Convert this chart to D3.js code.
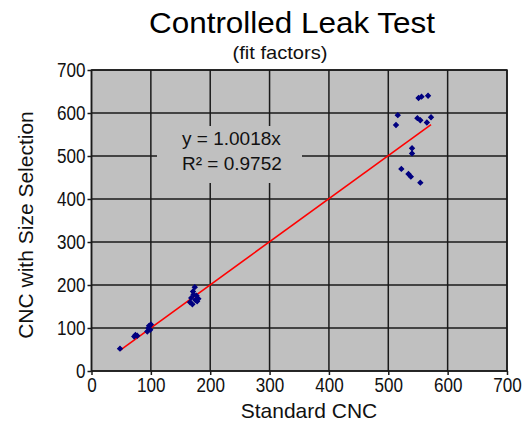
<!DOCTYPE html>
<html>
<head>
<meta charset="utf-8">
<script src="https://cdn.jsdelivr.net/npm/d3@7"></script>
<style>
  html, body { margin: 0; padding: 0; background: #ffffff; }
  svg { display: block; }
</style>
</head>
<body>
<svg id="chart" width="532" height="426"></svg>
<script>
// ---- data ----
const standardCNC = [48, 72, 74, 77, 94, 96, 97, 99, 100,
  166, 168, 170, 171, 172, 174, 175, 177, 178, 180,
  513, 516, 522, 534, 538, 540, 540, 549, 551, 554, 554, 556, 565, 567, 572];
const sizeSelCNC = [52, 80, 84, 82, 92, 100, 105, 96, 108,
  160, 170, 155, 185, 178, 195, 165, 175, 162, 168,
  572, 595, 470, 458, 452, 518, 506, 588, 635, 583, 438, 638, 578, 640, 590];
const xTicks = [0, 100, 200, 300, 400, 500, 600, 700];
const yTicks = [0, 100, 200, 300, 400, 500, 600, 700];
const slope = 1.0018;
const fitRange = [48, 572];
const titleText = "Controlled Leak Test";
const subtitleText = "(fit factors)";
const xLabel = "Standard CNC";
const yLabel = "CNC with Size Selection";
const eqLines = ["y = 1.0018x", "R² = 0.9752"];

// ---- layout ----
const svg = d3.select("#chart");
const x = d3.scaleLinear().domain([0, 700]).range([91.5, 507]);
const y = d3.scaleLinear().domain([0, 700]).range([371, 70]);

// plot area
svg.append("rect")
  .attr("x", x(0)).attr("y", y(700))
  .attr("width", x(700) - x(0)).attr("height", y(0) - y(700))
  .attr("fill", "#c0c0c0");

// gridlines
const grid = svg.append("g").attr("stroke", "#1a1a1a").attr("stroke-width", 1.5);
grid.selectAll("line.v").data(xTicks).join("line")
  .attr("x1", d => x(d)).attr("x2", d => x(d))
  .attr("y1", y(0)).attr("y2", y(700));
grid.selectAll("line.h").data(yTicks).join("line")
  .attr("y1", d => y(d)).attr("y2", d => y(d))
  .attr("x1", x(0)).attr("x2", x(700));

// equation label box (covers gridlines)
svg.append("rect")
  .attr("x", 157).attr("y", 126).attr("width", 145).attr("height", 57)
  .attr("fill", "#c0c0c0");

// border
svg.append("rect")
  .attr("x", x(0)).attr("y", y(700))
  .attr("width", x(700) - x(0)).attr("height", y(0) - y(700))
  .attr("fill", "none").attr("stroke", "#1a1a1a").attr("stroke-width", 1.5);

// axes
const font = "'Liberation Sans', Arial, sans-serif";
const xAxis = svg.append("g").attr("transform", `translate(0,${y(0)})`)
  .call(d3.axisBottom(x).tickValues(xTicks).tickSize(4).tickPadding(3).tickSizeOuter(0));
const yAxis = svg.append("g").attr("transform", `translate(${x(0)},0)`)
  .call(d3.axisLeft(y).tickValues(yTicks).tickSize(4).tickPadding(2).tickSizeOuter(0));
[xAxis, yAxis].forEach(a => {
  a.select(".domain").remove();
  a.selectAll("line").attr("stroke", "#1a1a1a").attr("stroke-width", 1.5);
  a.selectAll("text").attr("fill", "#111")
    .attr("textLength", d => String(d).length * 9.5).attr("lengthAdjust", "spacingAndGlyphs")
    .style("font-family", font).style("font-size", "20px");
});

// fit line
svg.append("line")
  .attr("x1", x(fitRange[0])).attr("y1", y(fitRange[0] * slope))
  .attr("x2", x(fitRange[1])).attr("y2", y(fitRange[1] * slope))
  .attr("stroke", "#ff0000").attr("stroke-width", 1.6);

// points
const pts = standardCNC.map((v, i) => [v, sizeSelCNC[i]]);
svg.append("g").selectAll("path").data(pts).join("path")
  .attr("transform", d => `translate(${x(d[0])},${y(d[1])}) rotate(45)`)
  .attr("d", d3.symbol().type(d3.symbolSquare).size(11))
  .attr("fill", "#000080").attr("stroke", "#000080").attr("stroke-width", 1.2);

// texts
svg.append("text").text(titleText)
  .attr("x", 292).attr("y", 33).attr("text-anchor", "middle")
  .attr("textLength", 286).attr("lengthAdjust", "spacingAndGlyphs")
  .style("font-family", font).style("font-size", "29px").attr("fill", "#000");
svg.append("text").text(subtitleText)
  .attr("x", 280).attr("y", 59).attr("text-anchor", "middle")
  .attr("textLength", 95).attr("lengthAdjust", "spacingAndGlyphs")
  .style("font-family", font).style("font-size", "19px").attr("fill", "#111");
svg.append("text").text(xLabel)
  .attr("x", 309).attr("y", 418).attr("text-anchor", "middle")
  .style("font-family", font).style("font-size", "21px").attr("fill", "#111");
svg.append("text").text(yLabel)
  .attr("transform", "translate(33,225) rotate(-90)").attr("text-anchor", "middle")
  .style("font-family", font).style("font-size", "21px").attr("fill", "#111");
svg.append("g").selectAll("text").data(eqLines).join("text")
  .text(d => d)
  .attr("x", 182).attr("y", (d, i) => 145 + i * 25)
  .style("font-family", font).style("font-size", "19px").attr("fill", "#111");
</script>
</body>
</html>
